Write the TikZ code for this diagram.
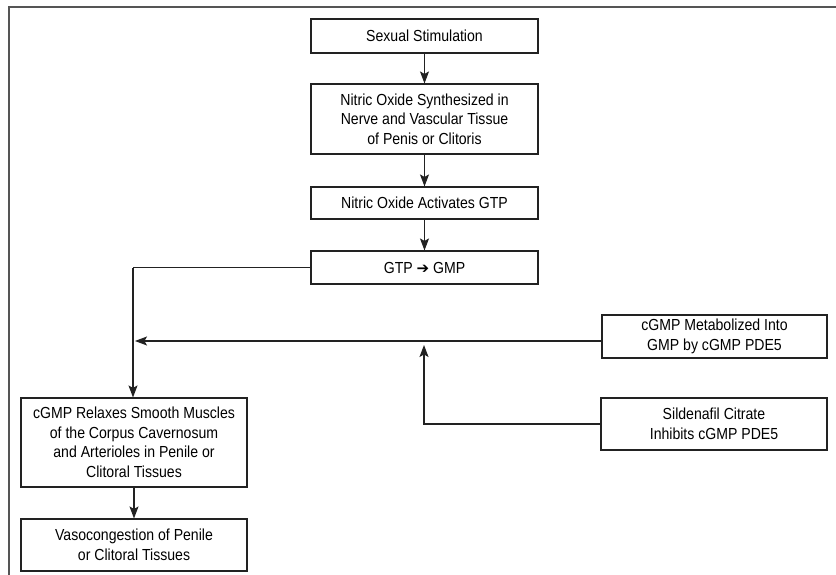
\documentclass[tikz,border=0pt]{standalone}
\usepackage{fontspec}
\setmainfont[FakeStretch=0.88]{Liberation Sans}
\newfontfamily\symfont{DejaVu Sans}
\usetikzlibrary{arrows.meta}
\definecolor{ink}{HTML}{222222}
\definecolor{frame}{HTML}{555555}

\begin{document}
\begin{tikzpicture}[x=1pt, y=-1pt,
  stepbox/.style={draw=ink, line width=1.1pt, align=center, inner sep=0pt,
    minimum width=227pt, font=\fontsize{16}{19.5}\selectfont},
  arr/.style={draw=ink, line width=1.1pt, -{Stealth[length=12pt, width=9pt, inset=2.5pt]}},
  link/.style={draw=ink, line width=1.1pt}]

\useasboundingbox (0,0) rectangle (836,575);

% outer frame (cut off at right and bottom)
\draw[frame, line width=2pt] (9,575) -- (9,7) -- (836,7);

% main column
\node[stepbox, minimum height=34pt] (stim) at (424.5,36) {Sexual Stimulation};
\node[stepbox, minimum height=70pt] (synth) at (424.5,119)
  {Nitric Oxide Synthesized in\\Nerve and Vascular Tissue\\of Penis or Clitoris};
\node[stepbox, minimum height=32pt] (activ) at (424.5,203) {Nitric Oxide Activates GTP};
\node[stepbox, minimum height=33pt] (gtp) at (424.5,267.5)
  {GTP {\symfont\fontsize{15}{15}\selectfont ➔} GMP};

% left column
\node[stepbox, minimum width=226pt, minimum height=89pt] (relax) at (134,442.5)
  {cGMP Relaxes Smooth Muscles\\of the Corpus Cavernosum\\and Arterioles in Penile or\\Clitoral Tissues};
\node[stepbox, minimum width=226pt, minimum height=52pt] (vaso) at (134,545)
  {Vasocongestion of Penile\\or Clitoral Tissues};

% right column
\node[stepbox, minimum width=225pt, minimum height=43pt] (metab) at (714.5,336.5)
  {cGMP Metabolized Into\\GMP by cGMP PDE5};
\node[stepbox, minimum width=226pt, minimum height=52pt] (silden) at (714,424)
  {Sildenafil Citrate\\Inhibits cGMP PDE5};

% helper points
\coordinate (bend) at (133,267.5);
\coordinate (join) at (135,341);
\coordinate (hit) at (424,345);

% arrows down the main column
\draw[arr] (stim) -- (synth);
\draw[arr] (synth) -- (activ);
\draw[arr] (activ) -- (gtp);

% GTP to relaxation
\draw[link] (gtp.west) -- (bend);
\draw[arr] (bend) -- (bend |- relax.north);
\draw[arr] (relax) -- (vaso);

% metabolism feeds back, sildenafil blocks it
\draw[arr] (metab.west |- join) -- (join);
\draw[arr] (silden.west) -| (hit);

\end{tikzpicture}
\end{document}
